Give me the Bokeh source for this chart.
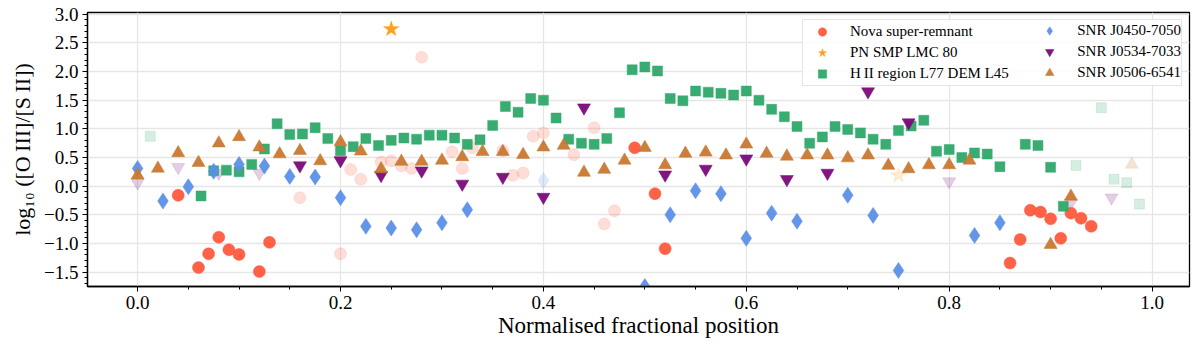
from bokeh.plotting import figure
from bokeh.models import Range1d, Legend, LegendItem, SingleIntervalTicker, CustomJSTickFormatter, Title
from bokeh.embed import file_html
from bokeh.resources import INLINE

# ---------------- data ----------------
nova_x = [0.04, 0.06, 0.07, 0.08, 0.09, 0.10, 0.12, 0.13, 0.49, 0.51, 0.52,
          0.86, 0.87, 0.88, 0.89, 0.90, 0.91, 0.92, 0.93, 0.94]
nova_y = [-0.16, -1.42, -1.18, -0.89, -1.11, -1.19, -1.49, -0.98, 0.67, -0.13, -1.09,
          -1.34, -0.93, -0.42, -0.45, -0.57, -0.91, -0.47, -0.56, -0.70]
nova_faded_x = [0.16, 0.20, 0.21, 0.22, 0.24, 0.25, 0.26, 0.27, 0.28, 0.31, 0.32,
                0.33, 0.36, 0.37, 0.38, 0.39, 0.40, 0.43, 0.45, 0.46, 0.47]
nova_faded_y = [-0.20, -1.18, 0.29, 0.12, 0.42, 0.44, 0.35, 0.31, 2.25, 0.60, 0.31,
                0.67, 0.62, 0.19, 0.23, 0.87, 0.93, 0.55, 1.02, -0.66, -0.43]

pn_x = [0.25]
pn_y = [2.74]
pn_faded_x = [0.75]
pn_faded_y = [0.19]

hii_x = [0.0625, 0.075, 0.0875, 0.10, 0.1125, 0.125, 0.1375, 0.15, 0.1625, 0.175,
         0.1875, 0.20, 0.2125, 0.225, 0.2375, 0.25, 0.2625, 0.275, 0.2875, 0.30,
         0.3125, 0.325, 0.3375, 0.35, 0.3625, 0.375, 0.3875, 0.40, 0.4125, 0.425,
         0.4375, 0.45, 0.4625, 0.475, 0.4875, 0.50, 0.5125, 0.525, 0.5375, 0.55,
         0.5625, 0.575, 0.5875, 0.60, 0.6125, 0.625, 0.6375, 0.65, 0.6625, 0.675,
         0.6875, 0.70, 0.7125, 0.725, 0.7375, 0.75, 0.7625, 0.775, 0.7875, 0.80,
         0.8125, 0.825, 0.8375, 0.85, 0.875, 0.8875, 0.90, 0.9125]
hii_y = [-0.17, 0.27, 0.28, 0.25, 0.38, 0.65, 1.09, 0.90, 0.91, 1.02,
         0.83, 0.62, 0.69, 0.83, 0.71, 0.80, 0.84, 0.82, 0.89, 0.89,
         0.84, 0.73, 0.81, 1.06, 1.39, 1.29, 1.53, 1.50, 1.19, 0.82,
         0.75, 0.73, 0.83, 1.28, 2.03, 2.08, 2.01, 1.53, 1.49, 1.66,
         1.64, 1.62, 1.59, 1.66, 1.50, 1.34, 1.21, 1.04, 0.75, 0.86,
         1.04, 0.99, 0.93, 0.82, 0.73, 0.97, 1.05, 1.15, 0.61, 0.64,
         0.50, 0.58, 0.56, 0.34, 0.73, 0.71, 0.33, -0.35]
hii_faded_x = [0.0125, 0.925, 0.95, 0.9625, 0.975, 0.9875]
hii_faded_y = [0.87, 0.36, 1.37, 0.12, 0.06, -0.31]

j0450_x = [0.0, 0.025, 0.05, 0.075, 0.10, 0.125, 0.15, 0.175, 0.20, 0.225, 0.25,
           0.275, 0.30, 0.325, 0.50, 0.525, 0.55, 0.575, 0.60, 0.625, 0.65, 0.70,
           0.725, 0.75, 0.825, 0.85]
j0450_y = [0.31, -0.26, -0.01, 0.26, 0.38, 0.35, 0.17, 0.16, -0.20, -0.70, -0.73,
           -0.76, -0.64, -0.41, -1.75, -0.50, -0.08, -0.13, -0.91, -0.47, -0.61, -0.16,
           -0.51, -1.47, -0.86, -0.64]
j0450_faded_x = [0.40]
j0450_faded_y = [0.10]

j0534_x = [0.16, 0.20, 0.24, 0.28, 0.32, 0.36, 0.40, 0.44, 0.52, 0.56, 0.60, 0.64,
           0.68, 0.72, 0.76]
j0534_y = [0.36, 0.45, 0.19, 0.27, 0.04, 0.16, -0.19, 1.37, 0.20, 0.30, 0.48, 0.12,
           0.23, 1.65, 1.11]
j0534_faded_x = [0.0, 0.04, 0.08, 0.12, 0.80, 0.92, 0.96]
j0534_faded_y = [0.06, 0.33, 0.23, 0.23, 0.08, -0.29, -0.20]

j0506_x = [0.0, 0.02, 0.04, 0.06, 0.08, 0.10, 0.12, 0.14, 0.16, 0.18, 0.20, 0.22,
           0.24, 0.26, 0.28, 0.30, 0.32, 0.34, 0.36, 0.38, 0.40, 0.42, 0.44, 0.46,
           0.48, 0.50, 0.52, 0.54, 0.56, 0.58, 0.60, 0.62, 0.64, 0.66, 0.68, 0.70,
           0.72, 0.74, 0.76, 0.78, 0.80, 0.82, 0.90, 0.92]
j0506_y = [0.19, 0.31, 0.58, 0.41, 0.75, 0.86, 0.68, 0.56, 0.62, 0.44, 0.77, 0.61,
           0.30, 0.43, 0.43, 0.45, 0.51, 0.60, 0.60, 0.55, 0.68, 0.71, 0.24, 0.29,
           0.45, 0.67, 0.37, 0.57, 0.59, 0.54, 0.73, 0.57, 0.52, 0.54, 0.54, 0.49,
           0.54, 0.36, 0.30, 0.37, 0.37, 0.45, -1.02, -0.18]
j0506_faded_x = [0.98]
j0506_faded_y = [0.38]

labels = ["Nova super-remnant", "PN SMP LMC 80", "H\u2009II region L77 DEM L45",
          "SNR J0450-7050", "SNR J0534-7033", "SNR J0506-6541"]
x_title = "Normalised fractional position"
y_title = "log\u2081\u2080 ([O\u2009III]/[S\u2009II])"

# ---------------- figure ----------------
FONT = "Liberation Serif"
p = figure(width=1198, height=343, output_backend="svg", toolbar_location=None,
           x_range=Range1d(-0.0494, 1.0369), y_range=Range1d(-1.75, 3.03),
           min_border_left=87, min_border_right=9, min_border_top=12, min_border_bottom=57)
p.background_fill_color = "white"
p.border_fill_color = "white"
p.outline_line_color = "black"
p.outline_line_width = 1.3

p.xaxis.ticker = SingleIntervalTicker(interval=0.2, num_minor_ticks=4)
p.yaxis.ticker = SingleIntervalTicker(interval=0.5, num_minor_ticks=5)
p.xaxis.formatter = CustomJSTickFormatter(code="return tick.toFixed(1).replace('-', '\u2212');")
p.yaxis.formatter = CustomJSTickFormatter(code="return tick.toFixed(1).replace('-', '\u2212');")
for ax in (p.xaxis, p.yaxis):
    ax.major_label_text_font = FONT
    ax.major_label_text_font_size = "19px"
    ax.major_label_text_color = "black"
    ax.axis_label_text_font = FONT
    ax.axis_label_text_font_size = "23px"
    ax.axis_label_text_font_style = "normal"
    ax.axis_label_text_color = "black"
    ax.axis_line_color = "black"
    ax.axis_line_width = 1.3
    ax.major_tick_line_color = "black"
    ax.minor_tick_line_color = "black"
    ax.major_tick_out = 5
    ax.major_tick_in = 0
    ax.minor_tick_out = 3
    ax.minor_tick_in = 0
p.xaxis.axis_label = x_title
p.xaxis.major_label_standoff = 4
p.yaxis.major_label_standoff = 4
p.xaxis.axis_label_standoff = 1
p.xgrid.ticker = p.xaxis.ticker
p.ygrid.ticker = p.yaxis.ticker
p.grid.grid_line_color = "#e6e6e6"
p.grid.grid_line_width = 1.3

# y-axis title as a left-side Title for predictable placement
ytitle = Title(text=y_title, align="center", text_font=FONT, text_font_size="22px",
               text_font_style="normal", text_color="black", standoff=13)
p.add_layout(ytitle, "left")

C_NOVA = "#ff5a3c"
C_PN = "#ff9c12"
C_HII = "#2ea86a"
C_J0450 = "#5b8fe8"
C_J0534 = "#7a0a7a"
C_J0506 = "#c87830"

FADE = 0.2

# faded points first
p.scatter(nova_faded_x, nova_faded_y, marker="circle", size=12, fill_color=C_NOVA,
          line_color=C_NOVA, fill_alpha=FADE, line_alpha=FADE * 0.6)
p.scatter(pn_faded_x, pn_faded_y, marker="star", size=16, fill_color=C_PN,
          line_color=C_PN, fill_alpha=FADE, line_alpha=FADE * 0.6)
p.scatter(hii_faded_x, hii_faded_y, marker="square", size=10, fill_color=C_HII,
          line_color=C_HII, fill_alpha=FADE, line_alpha=FADE * 0.6)
p.scatter(j0450_faded_x, j0450_faded_y, marker="diamond", size=16, fill_color=C_J0450,
          line_color=C_J0450, fill_alpha=FADE, line_alpha=FADE * 0.6)
p.scatter(j0534_faded_x, j0534_faded_y, marker="inverted_triangle", size=13, fill_color=C_J0534,
          line_color=C_J0534, fill_alpha=FADE, line_alpha=FADE * 0.6)
p.scatter(j0506_faded_x, j0506_faded_y, marker="triangle", size=13, fill_color=C_J0506,
          line_color=C_J0506, fill_alpha=FADE, line_alpha=FADE * 0.6)

r_nova = p.scatter(nova_x, nova_y, marker="circle", size=12, fill_color=C_NOVA,
                   line_color=C_NOVA, fill_alpha=0.95, line_alpha=0.5)
r_pn = p.scatter(pn_x, pn_y, marker="star", size=16, fill_color=C_PN,
                 line_color=C_PN, fill_alpha=0.95, line_alpha=0.5)
r_hii = p.scatter(hii_x, hii_y, marker="square", size=10, fill_color=C_HII,
                  line_color=C_HII, fill_alpha=0.95, line_alpha=0.45)
r_j0450 = p.scatter(j0450_x, j0450_y, marker="diamond", size=16, fill_color=C_J0450,
                    line_color=C_J0450, fill_alpha=0.95, line_alpha=0.5)
r_j0534 = p.scatter(j0534_x, j0534_y, marker="inverted_triangle", size=13, fill_color=C_J0534,
                    line_color=C_J0534, fill_alpha=0.95, line_alpha=0.5)
r_j0506 = p.scatter(j0506_x, j0506_y, marker="triangle", size=13, fill_color=C_J0506,
                    line_color=C_J0506, fill_alpha=0.95, line_alpha=0.5)

renderers = [r_nova, r_pn, r_hii, r_j0450, r_j0534, r_j0506]
items = [LegendItem(label=l, renderers=[r]) for l, r in zip(labels, renderers)]


def style_legend(lg):
    lg.label_text_font = FONT
    lg.label_text_font_size = "15px"
    lg.label_text_color = "black"
    lg.glyph_width = 36
    lg.glyph_height = 21
    lg.label_height = 21
    lg.label_standoff = 10
    lg.spacing = 0
    lg.padding = 1
    lg.margin = 7


# first column carries the shared box; second column drawn on top without a box
legend1 = Legend(items=items[:3], location="top_right")
style_legend(legend1)
legend1.label_width = 330
legend1.border_line_color = "#cccccc"
legend1.border_line_width = 1
legend1.background_fill_alpha = 0.85

legend2 = Legend(items=items[3:], location="top_right")
style_legend(legend2)
legend2.border_line_alpha = 0
legend2.background_fill_alpha = 0

p.add_layout(legend1)
p.add_layout(legend2)

open("out.html", "w").write(file_html(p, INLINE))
